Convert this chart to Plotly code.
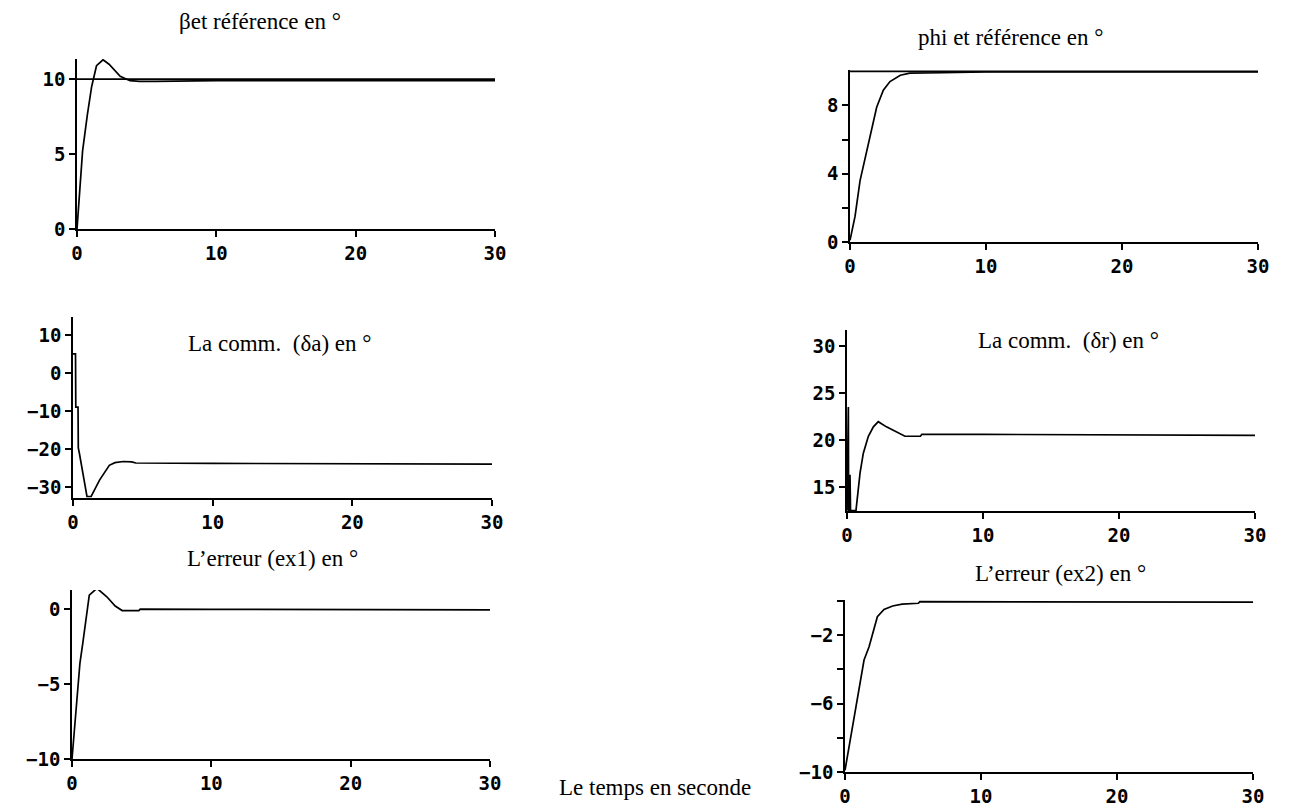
import plotly.graph_objects as go

W, H = 1293, 809

# ---------------- data ----------------
x_ticks = [0, 10, 20, 30]

# Panel 1 : beta and reference (deg)
t_beta = [0, 0.2, 0.4, 0.74, 1.05, 1.4, 1.87, 2.3, 2.6, 3.1, 3.8, 4.5, 5.6, 10, 20, 30]
beta = [0, 2.5, 5.2, 7.6, 9.5, 10.9, 11.3, 11.0, 10.7, 10.2, 9.9, 9.86, 9.86, 9.9, 9.9, 9.9]
t_ref_beta = [0, 30]
ref_beta = [10, 10]
yt_beta = [0, 5, 10]

# Panel 2 : phi and reference (deg)
t_phi = [0, 0.37, 0.74, 1.2, 1.6, 1.96, 2.45, 2.94, 3.7, 4.4, 6.8, 10, 20, 30]
phi = [0.1, 1.5, 3.6, 5.2, 6.7, 7.9, 8.9, 9.4, 9.77, 9.9, 9.92, 9.97, 9.97, 9.97]
t_ref_phi = [0, 30]
ref_phi = [10, 10]
yt_phi = [0, 2, 4, 6, 8]
yl_phi = [0, 4, 8]

# Panel 3 : command delta_a (deg)
t_da = [0, 0.18, 0.2, 0.36, 0.38, 0.45, 1.0, 1.3, 1.9, 2.6, 3.0, 3.6, 4.2, 4.5, 10, 20, 30]
da = [5, 5, -9, -9, -19.7, -21, -32.5, -32.5, -28.2, -24.3, -23.6, -23.3, -23.4, -23.7, -23.8, -23.9, -24]
yt_da = [10, 0, -10, -20, -30]

# Panel 4 : command delta_r (deg)
t_dr = [0, 0.05, 0.1, 0.12, 0.2, 0.22, 0.26, 0.66, 0.96, 1.2, 1.57, 1.94, 2.3, 2.9, 3.65, 4.26, 5.4, 5.5, 10, 20, 30]
dr = [12.5, 23.5, 23.5, 12.5, 12.5, 16.3, 12.5, 12.5, 16.5, 18.6, 20.4, 21.4, 21.95, 21.4, 20.8, 20.4, 20.4, 20.6, 20.6, 20.55, 20.5]
yt_dr = [15, 20, 25, 30]

# Panel 5 : error ex1 (deg)
t_ex1 = [0, 0.05, 0.2, 0.38, 0.57, 0.77, 0.93, 1.1, 1.24, 1.79, 2.5, 3.1, 3.6, 4.8, 4.9, 10, 20, 30]
ex1 = [-10, -9.4, -7.5, -5.4, -3.6, -2.3, -1.2, 0.15, 0.93, 1.38, 0.82, 0.2, -0.1, -0.1, 0.0, -0.02, -0.03, -0.05]
yt_ex1 = [0, -5, -10]

# Panel 6 : error ex2 (deg)
t_ex2 = [0, 0.3, 0.66, 1.03, 1.4, 1.77, 2.13, 2.38, 2.87, 3.5, 4.2, 5.4, 5.5, 10, 20, 30]
ex2 = [-9.9, -8.5, -6.96, -5.0, -3.45, -2.67, -1.7, -0.92, -0.49, -0.29, -0.18, -0.13, -0.04, -0.04, -0.05, -0.06]
yt_ex2 = [-10, -8, -6, -4, -2, 0]
yl_ex2 = [-10, -6, -2]

titles = [
    "βet référence en °",
    "phi et référence en °",
    "La comm.\u00a0 (δa) en °",
    "La comm.\u00a0 (δr) en °",
    "L’erreur (ex1) en °",
    "L’erreur (ex2) en °",
]
xlabel = "Le temps en seconde"

# ---------------- layout geometry (pixels) ----------------
panels = [
    dict(box=(77, 495, 59, 229), yr=[0, 11.35], yt=yt_beta, yl=yt_beta),
    dict(box=(850, 1258, 70, 242), yr=[0, 10.08], yt=yt_phi, yl=yl_phi),
    dict(box=(73, 492, 317, 498), yr=[-32.9, 14.7], yt=yt_da, yl=yt_da),
    dict(box=(847, 1255, 330, 511), yr=[12.45, 31.7], yt=yt_dr, yl=yt_dr),
    dict(box=(72, 490, 590, 759), yr=[-10, 1.27], yt=yt_ex1, yl=yt_ex1),
    dict(box=(845, 1253, 600, 772), yr=[-10, 0.06], yt=yt_ex2, yl=yl_ex2),
]
title_pos = [(260, 21), (1010, 37), (280, 343), (1068, 340), (272, 558), (1060, 573)]

series = [
    [(t_beta, beta), (t_ref_beta, ref_beta)],
    [(t_phi, phi), (t_ref_phi, ref_phi)],
    [(t_da, da)],
    [(t_dr, dr)],
    [(t_ex1, ex1)],
    [(t_ex2, ex2)],
]

def fmt(v):
    return str(v).replace("-", "\u2212")

fig = go.Figure()
tick_font = dict(family="DejaVu Sans Mono", size=19, color="black", weight="bold")

for i, p in enumerate(panels):
    n = i + 1
    xa = "x" if n == 1 else f"x{n}"
    ya = "y" if n == 1 else f"y{n}"
    for tx, vy in series[i]:
        fig.add_trace(go.Scatter(x=tx, y=vy, mode="lines", xaxis=xa, yaxis=ya,
                                 line=dict(color="black", width=1.7),
                                 showlegend=False, hoverinfo="skip"))
    l, r, t, b = p["box"]
    common = dict(showline=True, linecolor="black", linewidth=1.7, ticks="outside",
                  ticklen=6, tickwidth=1.7, tickcolor="black", showgrid=False,
                  zeroline=False, tickfont=tick_font, mirror=False, automargin=False)
    fig.layout[f"xaxis{'' if n == 1 else n}"] = dict(
        domain=[l / W, r / W], range=[0, 30], anchor=ya,
        tickvals=x_ticks, ticktext=[fmt(v) for v in x_ticks], ticklabelstandoff=0, **common)
    fig.layout[f"yaxis{'' if n == 1 else n}"] = dict(
        domain=[1 - b / H, 1 - t / H], range=p["yr"], anchor=xa,
        tickvals=p["yt"], ticktext=[fmt(v) if v in p["yl"] else "" for v in p["yt"]],
        ticklabelstandoff=0, **common)

annos = []
for (cx, cy), txt in zip(title_pos, titles):
    annos.append(dict(x=cx / W, y=1 - cy / H, xref="paper", yref="paper", text=txt,
                      showarrow=False, xanchor="center", yanchor="middle",
                      font=dict(family="Liberation Serif", size=23, color="black")))
annos.append(dict(x=655 / W, y=1 - 787 / H, xref="paper", yref="paper", text=xlabel,
                  showarrow=False, xanchor="center", yanchor="middle",
                  font=dict(family="Liberation Serif", size=23, color="black")))

fig.update_layout(width=W, height=H, margin=dict(l=0, r=0, t=0, b=0),
                  paper_bgcolor="white", plot_bgcolor="white", annotations=annos,
                  showlegend=False)

fig.write_html("out.html", config={"displayModeBar": False},
               post_script="document.body.style.margin='0';document.body.style.overflow='hidden';")
